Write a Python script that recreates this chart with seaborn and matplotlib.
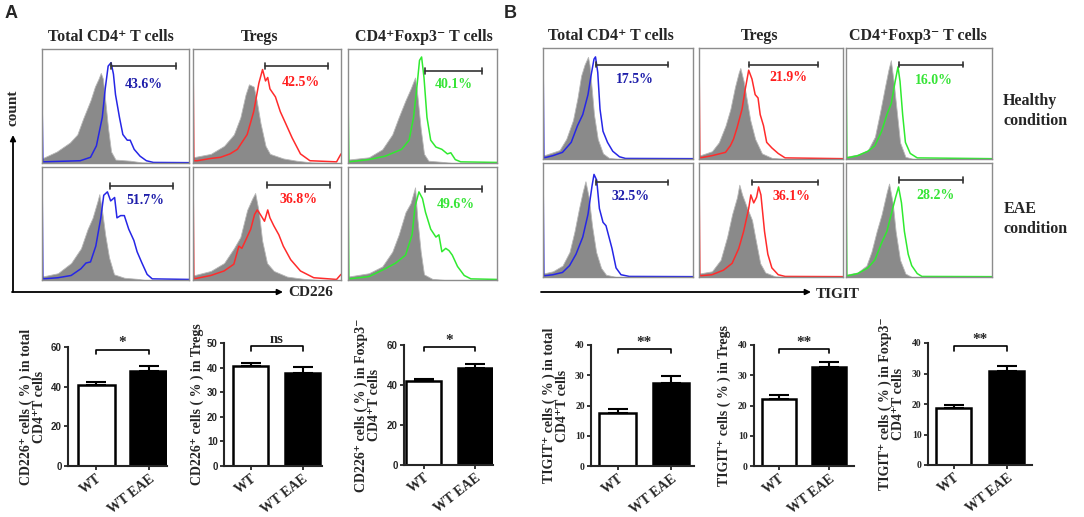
import matplotlib
matplotlib.use("Agg")
import matplotlib.pyplot as plt
import pandas as pd
import seaborn as sns

# ---- data ---------------------------------------------------------------
CELL_TYPES = ["Total CD4\u207a T cells", "Tregs", "CD4\u207aFoxp3\u207b T cells"]
GROUPS = ["WT", "WT EAE"]

# flow histograms: (intensity %, count % of panel height)
A_TOT_H_ISO = [(0, 4), (10, 10), (19, 18), (24, 25), (28, 39), (33, 55), (36, 67), (38.5, 74), (40, 79),
               (41.4, 74), (43, 55), (45, 30), (47, 10), (50, 3), (60, 2), (68, 0.5), (100, 0)]
A_TOT_H_LINE = [(0, 58), (0.6, 1), (26, 2), (33, 5), (37, 15), (41, 40), (43, 65), (45, 85), (47, 88),
                (48.6, 78), (50, 60), (52.7, 40), (55, 25), (58, 20), (60, 20), (62.7, 12), (66.7, 6), (71, 2),
                (75.8, 0.5), (100, 0.3)]
A_TREG_H_ISO = [(0, 5), (12, 8), (21, 15), (27.6, 25), (32, 40), (35.5, 60), (37.8, 69), (41, 67), (43, 55),
                (45.6, 35), (49, 15), (52, 8), (61, 4), (70, 2), (80, 0.5), (100, 0)]
A_TREG_H_LINE = [(0, 97), (0.6, 2), (3, 2), (12, 4), (18.6, 5), (25, 8), (30, 12), (36.6, 25), (41, 45),
                 (44.5, 70), (47, 82), (49, 72), (50.5, 75), (52, 65), (55.7, 58), (59, 45), (62.5, 35),
                 (67, 22), (72.6, 8), (79, 2), (97, 1), (100, 8)]
A_FOX_H_ISO = [(0, 3), (14, 5), (23, 12), (29.7, 25), (34, 40), (38.6, 55), (42, 65), (45, 75), (46.5, 60),
               (48.8, 30), (51, 8), (54, 2), (63, 1), (70, 0), (100, 0)]
A_FOX_H_LINE = [(0, 60), (0.6, 1), (14, 3), (25, 6), (36, 12), (41, 20), (44, 40), (46.5, 70), (48, 90),
                (49.4, 93), (51, 75), (53, 40), (55.5, 20), (59, 14), (63, 12), (66.7, 8), (69, 9), (72, 3),
                (75.7, 1), (100, 0.5)]

A_TOT_E_ISO = [(0, 3), (10.8, 6), (19.8, 15), (26.5, 28), (31, 45), (34.4, 55), (37.8, 70), (39, 76), (41, 60),
               (43, 40), (45.6, 20), (49, 5), (56, 2), (65, 1), (70, 0), (100, 0)]
A_TOT_E_LINE = [(0, 98), (0.6, 1), (10.8, 2), (19.8, 4), (26.5, 10), (29.9, 15), (33, 16), (36.6, 30), (40, 55),
                (42, 75), (44.5, 78), (46.7, 70), (49.4, 73), (51, 55), (53.5, 57), (56, 57), (59, 45),
                (62.5, 35), (64.7, 25), (68, 15), (71.5, 5), (75, 1), (100, 0.5)]
A_TREG_E_ISO = [(0, 4), (12, 8), (21, 15), (27.6, 28), (32, 38), (36.6, 62), (40, 72), (42, 77), (44.5, 60),
                (46.7, 35), (50, 15), (54.6, 8), (63.6, 3), (75, 1), (85, 0), (100, 0)]
A_TREG_E_LINE = [(0, 97), (0.6, 1), (12, 4), (21, 8), (27.6, 14), (31, 30), (33, 28), (35.5, 35), (39, 45),
                 (41.6, 58), (43.4, 62), (45.5, 58), (48.3, 52), (50.5, 62), (52, 55), (54.6, 48), (58, 40),
                 (61, 30), (66, 18), (72.6, 8), (81.6, 2), (97, 0.5), (100, 5)]
A_FOX_E_ISO = [(0, 3), (14, 6), (23, 12), (29.7, 25), (34, 40), (38.6, 60), (42, 68), (45, 82), (46.5, 55),
               (48.8, 25), (51, 5), (56.6, 1), (65, 0), (100, 0)]
A_FOX_E_LINE = [(0, 87), (0.6, 1), (14, 3), (25, 10), (32, 15), (38.6, 22), (43, 40), (45, 65), (47.6, 78),
                (50, 72), (52, 60), (55.5, 45), (59, 38), (61, 40), (63, 25), (65.6, 28), (67.8, 26), (70, 22),
                (73.5, 12), (78, 4), (82.5, 1), (100, 0.5)]

B_TOT_H_ISO = [(0, 3), (4.4, 5), (11, 8), (15.5, 18), (20, 35), (23, 55), (25.4, 75), (27.7, 85), (30, 92),
               (31, 85), (32.7, 60), (34, 40), (36.5, 18), (40, 5), (44, 1), (50, 0), (100, 0)]
B_TOT_H_LINE = [(0, 97), (0.6, 1), (6.6, 3), (13, 6), (18.8, 15), (23, 30), (26.5, 40), (30, 58), (32, 75),
                (34, 90), (35, 92), (36.5, 78), (38, 45), (40, 25), (43, 15), (46.5, 7), (51, 2), (55, 0.5),
                (100, 0.3)]
B_TREG_H_ISO = [(0, 3), (4.6, 5), (9, 7), (13.8, 15), (18.4, 30), (21.8, 45), (25, 65), (27.6, 78), (28.7, 82),
                (31, 70), (33, 55), (35.6, 35), (39, 18), (43.7, 5), (50.6, 1), (60, 0), (100, 0)]
B_TREG_H_LINE = [(0, 97), (0.6, 1), (9, 3), (18.4, 6), (21.8, 12), (24, 18), (26.4, 28), (29.9, 45), (32, 62),
                 (34.5, 80), (36.8, 72), (39, 58), (41, 55), (42.5, 40), (44.8, 30), (47, 15), (50.6, 10),
                 (55, 5), (59.8, 1), (100, 0.3)]
B_FOX_H_ISO = [(0, 2), (8, 4), (15, 8), (19.8, 20), (23, 40), (26.7, 65), (29, 80), (30.7, 89), (32.6, 70),
               (35, 40), (37, 15), (40.7, 2), (46, 0), (100, 0)]
B_FOX_H_LINE = [(0, 97), (0.6, 1), (8, 3), (15, 7), (19.8, 12), (24.4, 25), (28, 40), (31, 50), (33.7, 70),
                (35.6, 83), (37, 70), (38.8, 40), (40.7, 15), (44, 5), (48.8, 1), (100, 0.3)]

B_TOT_E_ISO = [(0, 3), (6.6, 5), (13, 10), (17.7, 22), (21, 40), (24, 60), (26.5, 75), (28.3, 84), (30.5, 70),
               (32.7, 45), (35.4, 22), (38.7, 8), (42, 2), (48.7, 0), (100, 0)]
B_TOT_E_LINE = [(0, 97), (0.6, 1), (6.6, 2), (13, 4), (17.7, 10), (22, 20), (26.5, 35), (30, 55), (32.7, 80),
                (34, 90), (35.8, 85), (37.6, 60), (40, 48), (42, 45), (44, 35), (46, 25), (48.7, 8), (52, 2),
                (57.5, 0.5), (100, 0.3)]
B_TREG_E_ISO = [(0, 3), (9, 5), (15, 15), (19.5, 35), (23, 55), (26.4, 70), (28, 81), (30, 72), (33, 62),
                (36.8, 50), (39, 35), (42.5, 12), (46, 4), (52.9, 0.5), (60, 0), (100, 0)]
B_TREG_E_LINE = [(0, 97), (0.6, 1), (9, 2), (17, 6), (23, 12), (27.6, 25), (31, 40), (34.5, 60), (36, 72),
                 (38, 65), (40, 70), (41.4, 79), (43, 72), (45.5, 40), (47.8, 20), (50.6, 8), (55, 2),
                 (59.8, 0.5), (100, 0.3)]
B_FOX_E_ISO = [(0, 2), (8, 4), (14, 10), (17.4, 22), (21, 40), (24.4, 55), (28, 75), (29.5, 82), (32, 65),
               (34, 40), (37, 15), (40.7, 3), (45, 0), (100, 0)]
B_FOX_E_LINE = [(0, 97), (0.6, 1), (8, 3), (15, 8), (19.8, 15), (24.4, 30), (28, 40), (31, 55), (34, 70),
                (36, 79), (38, 65), (40, 40), (42.6, 20), (45, 10), (48.8, 3), (52, 0.5), (100, 0.3)]

# gated percentages
PCT_A = [["43.6%", "42.5%", "40.1%"], ["51.7%", "36.8%", "49.6%"]]
PCT_B = [["17.5%", "21.9%", "16.0%"], ["32.5%", "36.1%", "28.2%"]]

# bar charts: mean and upper error (SEM)
A_WT = [40.9, 40.7, 41.8]
A_WT_ERR = [1.7, 1.1, 1.1]
A_EAE = [48.1, 37.9, 48.4]
A_EAE_ERR = [2.4, 2.5, 2.2]
A_SIG = ["*", "ns", "*"]
B_WT = [17.6, 22.0, 18.7]
B_WT_ERR = [1.4, 1.4, 0.9]
B_EAE = [27.4, 32.8, 30.7]
B_EAE_ERR = [2.2, 1.5, 1.9]
B_SIG = ["**", "**", "**"]

A_YLABELS = ["CD226\u207a cells ( % ) in total\nCD4\u207aT cells",
             "CD226\u207a cells ( % ) in Tregs",
             "CD226\u207a cells ( % ) in Foxp3\u207b\nCD4\u207aT cells"]
B_YLABELS = ["TIGIT\u207a cells ( % ) in total\nCD4\u207aT cells",
             "TIGIT\u207a cells ( % ) in Tregs",
             "TIGIT\u207a cells ( % ) in Foxp3\u207b\nCD4\u207aT cells"]
A_YTICKS = [[0, 20, 40, 60], [0, 10, 20, 30, 40, 50], [0, 20, 40, 60]]
B_YTICKS = [[0, 10, 20, 30, 40]] * 3

# ---- style / layout -------------------------------------------------------
W, H = 1084, 517
LINE_COLORS = ["#2626e6", "#ff2b2b", "#30ea30"]
TEXT_COLORS = ["#1e1eaa", "#ff1e1e", "#36e436"]
ISO_COLOR = "#8a8a8a"
SERIF = ["Liberation Serif", "DejaVu Serif"]
SANS = ["Liberation Sans", "DejaVu Sans"]

sns.set_style("ticks")
plt.rcParams["font.family"] = SERIF
plt.rcParams["font.weight"] = "bold"


def px_rect(left, right, top, bottom):
    return [left / W, 1 - bottom / H, (right - left) / W, (bottom - top) / H]


fig = plt.figure(figsize=(W / 100, H / 100), dpi=100)
fig.patch.set_facecolor("white")

# overlay in pixel coordinates for loose texts and arrows
ov = fig.add_axes([0, 0, 1, 1])
ov.set_xlim(0, W)
ov.set_ylim(H, 0)
ov.axis("off")


def draw_hist(ax, iso, line, color, pct, tcolor, gate):
    ix, iy = zip(*iso)
    ax.fill_between(ix, iy, 0, facecolor=ISO_COLOR, edgecolor="#b8b8b8", lw=0.6)
    lx, ly = zip(*line)
    sns.lineplot(x=list(lx), y=list(ly), ax=ax, color=color, lw=1.1, sort=False, estimator=None)
    g0, g1, gy, tx, ty = gate
    ax.plot([g0, g1], [gy, gy], color="#333333", lw=1.2)
    ax.plot([g0, g0], [gy - 2.5, gy + 2.5], color="#333333", lw=1.2)
    ax.plot([g1, g1], [gy - 2.5, gy + 2.5], color="#333333", lw=1.2)
    ax.text(tx, ty, pct, color=tcolor, fontsize=10, fontweight="bold", ha="center", va="center")
    ax.set_xlim(0, 100)
    ax.set_ylim(0, 100)
    ax.set_xticks([])
    ax.set_yticks([])
    ax.set_xlabel("")
    ax.set_ylabel("")
    for s in ax.spines.values():
        s.set_visible(True)
        s.set_color("#8c8c8c")
        s.set_linewidth(1.0)


def draw_bars(ax, wt, wt_err, eae, eae_err, yticks, xlim, width, sig, sig_y, ylabel, label_x, tick_family):
    df = pd.DataFrame({"group": GROUPS, "value": [wt, eae]})
    sns.barplot(data=df, x="group", y="value", hue="group", order=GROUPS,
                palette={"WT": "white", "WT EAE": "black"}, width=width, dodge=False,
                edgecolor="black", linewidth=1.8, errorbar=None, legend=False, ax=ax)
    ax.errorbar([0, 1], [wt, eae], yerr=[[0, 0], [wt_err, eae_err]], fmt="none", ecolor="black",
                elinewidth=1.5, capsize=7, capthick=1.5)
    top = yticks[-1]
    ax.set_xlim(*xlim)
    ax.set_ylim(0, top)
    ax.set_yticks(yticks)
    sns.despine(ax=ax)
    for s in ["left", "bottom"]:
        ax.spines[s].set_linewidth(1.5)
    ax.tick_params(axis="both", direction="out", length=3, width=1.3, pad=1.5)
    ax.set_xticks([0, 1])
    ax.set_xticklabels(GROUPS, rotation=38, ha="right", rotation_mode="anchor",
                       fontsize=10, fontweight="bold")
    for t in ax.get_yticklabels():
        t.set_fontsize(7)
        t.set_fontweight("bold")
        t.set_family(tick_family)
    ax.set_xlabel("")
    ax.set_ylabel("")
    d = top * 0.035
    ax.plot([0, 0, 1, 1], [sig_y - d, sig_y, sig_y, sig_y - d], color="black", lw=1.2, clip_on=False)
    ax.text(0.5, sig_y + top * 0.005, sig, ha="center", va="bottom", fontsize=11 if sig != "ns" else 10.5,
            fontweight="bold", clip_on=False)
    ax.text(label_x, 0.5, ylabel, transform=ax.transAxes, rotation=90, ha="center", va="center",
            fontsize=10, fontweight="bold", multialignment="center", linespacing=1.05)


# ---- panel A / B histograms ----------------------------------------------
HIST = {
    "A": dict(cols=[(42, 189), (193, 341), (348, 497)], rows=[(49, 163), (167, 280)],
              titles=[111, 260, 424], title_y=37, pct=PCT_A,
              curves=[[(A_TOT_H_ISO, A_TOT_H_LINE), (A_TREG_H_ISO, A_TREG_H_LINE), (A_FOX_H_ISO, A_FOX_H_LINE)],
                      [(A_TOT_E_ISO, A_TOT_E_LINE), (A_TREG_E_ISO, A_TREG_E_LINE), (A_FOX_E_ISO, A_FOX_E_LINE)]],
              gates=[[(46.8, 91, 85, 69.5, 69), (48.5, 91, 85, 72.6, 70.6), (51.7, 90, 81, 71, 69)],
                     [(46.3, 89.4, 83, 70, 70), (49.7, 92.8, 84, 71.5, 71), (51.7, 90, 80.6, 72, 66.8)]]),
    "B": dict(cols=[(543, 693), (699, 843), (846, 992)], rows=[(48, 159), (163, 277)],
              titles=[611, 760, 918], title_y=36, pct=PCT_B,
              curves=[[(B_TOT_H_ISO, B_TOT_H_LINE), (B_TREG_H_ISO, B_TREG_H_LINE), (B_FOX_H_ISO, B_FOX_H_LINE)],
                      [(B_TOT_E_ISO, B_TOT_E_LINE), (B_TREG_E_ISO, B_TREG_E_LINE), (B_FOX_E_ISO, B_FOX_E_LINE)]],
              gates=[[(35, 83.6, 85, 61, 72), (34.5, 82.8, 85, 62, 73.6), (36, 79.8, 85, 60, 71)],
                     [(35, 83, 83, 58, 71), (36.8, 82.8, 83, 64, 71), (36, 79.8, 85, 61.6, 71.6)]]),
}

for key, p in HIST.items():
    for c, (cl, cr) in enumerate(p["cols"]):
        ov.text(p["titles"][c], p["title_y"], CELL_TYPES[c], ha="center", va="center",
                fontsize=11.5, fontweight="bold")
        for r, (rt, rb) in enumerate(p["rows"]):
            ax = fig.add_axes(px_rect(cl, cr, rt, rb))
            iso, line = p["curves"][r][c]
            draw_hist(ax, iso, line, LINE_COLORS[c], p["pct"][r][c], TEXT_COLORS[c], p["gates"][r][c])

# panel letters
ov.text(11, 14, "A", ha="center", va="center", fontsize=13, fontweight="bold", family=SANS)
ov.text(510, 14, "B", ha="center", va="center", fontsize=13, fontweight="bold", family=SANS)

# axis arrows
arrow = dict(arrowstyle="-|>", lw=1.3, color="black", mutation_scale=8, shrinkA=0, shrinkB=0)
ov.annotate("", xy=(13, 135), xytext=(13, 292), arrowprops=arrow)
ov.annotate("", xy=(283, 292), xytext=(12, 292), arrowprops=arrow)
ov.annotate("", xy=(811, 292), xytext=(541, 292), arrowprops=arrow)
ov.text(13, 108, "count", rotation=90, ha="center", va="center", fontsize=11, fontweight="bold")
ov.text(288, 293, "CD226", ha="left", va="center", fontsize=11, fontweight="bold")
ov.text(816, 294, "TIGIT", ha="left", va="center", fontsize=11, fontweight="bold")

# row annotations
ov.text(1003, 111, "Healthy\ncondition", ha="left", va="center", fontsize=11.5, fontweight="bold",
        linespacing=1.3)
ov.text(1004, 219, "EAE\ncondition", ha="left", va="center", fontsize=11.5, fontweight="bold",
        linespacing=1.3)

# ---- bar charts -------------------------------------------------------------
BARS = [
    # (left, right, top, bottom, xlim, width, sig_y, label centre x)
    (68, 167, 347, 466, (-0.53, 1.34), 0.7, 58.6, 33),
    (224, 322, 343, 466, (-0.51, 1.375), 0.67, 48.6, 197),
    (404, 493, 345, 465, (-0.38, 1.35), 0.67, 58.9, 368),
    (591, 694, 345, 466, (-0.5, 1.44), 0.68, 38.6, 556),
    (754, 854, 345, 466, (-0.49, 1.49), 0.68, 38.6, 724),
    (928, 1032, 343, 465, (-0.49, 1.48), 0.66, 38.9, 892),
]
wt_all = A_WT + B_WT
wt_err_all = A_WT_ERR + B_WT_ERR
eae_all = A_EAE + B_EAE
eae_err_all = A_EAE_ERR + B_EAE_ERR
sig_all = A_SIG + B_SIG
ylabels = A_YLABELS + B_YLABELS
yticks_all = A_YTICKS + B_YTICKS

for i, (l, r, t, b, xlim, width, sig_y, lx) in enumerate(BARS):
    ax = fig.add_axes(px_rect(l, r, t, b))
    draw_bars(ax, wt_all[i], wt_err_all[i], eae_all[i], eae_err_all[i], yticks_all[i], xlim, width,
              sig_all[i], sig_y, ylabels[i], (lx - l) / (r - l), SANS if i < 3 else SERIF)

fig.savefig("out.png", dpi=100, facecolor="white")
